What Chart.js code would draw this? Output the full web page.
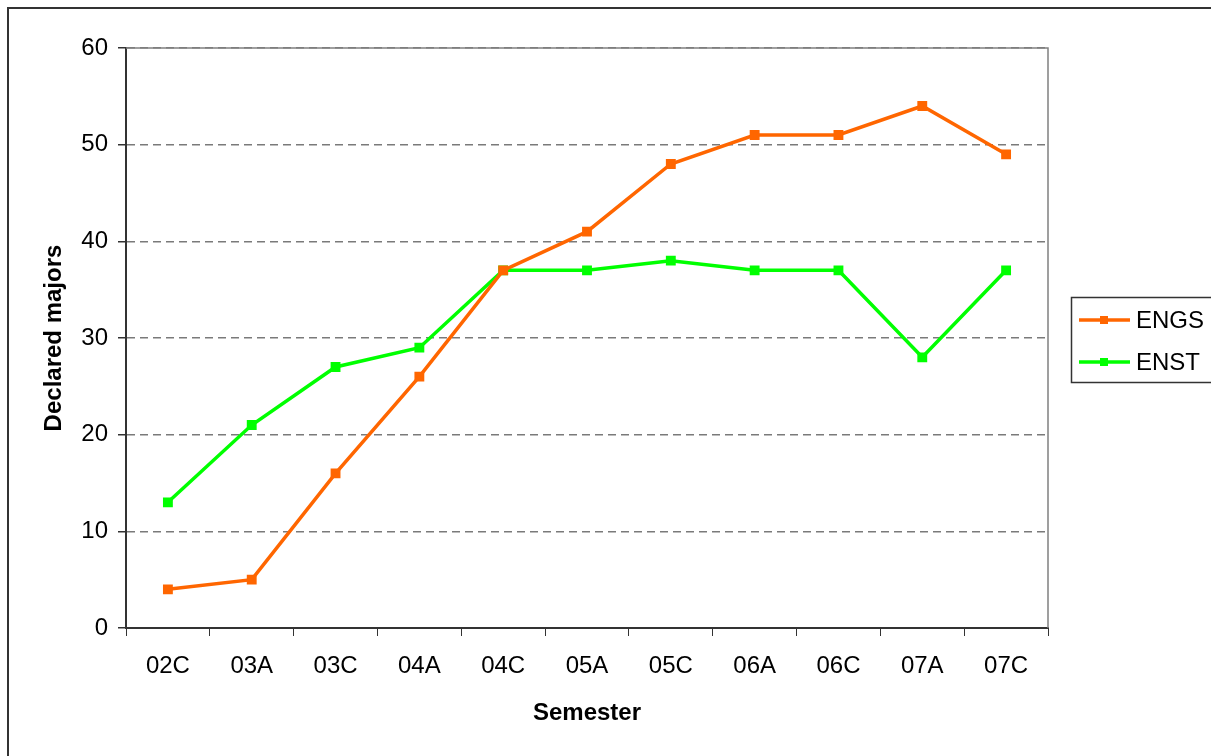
<!DOCTYPE html>
<html>
<head>
<meta charset="utf-8">
<script src="https://cdn.jsdelivr.net/npm/chart.js@4.4.1/dist/chart.umd.min.js"></script>
<style>
  html, body { margin: 0; padding: 0; background: #fff; }
  #wrap { width: 1211px; height: 756px; position: relative; }
</style>
</head>
<body>
<div id="wrap"><canvas id="chart" width="1211" height="756"></canvas></div>
<script>
const semesters = ['02C', '03A', '03C', '04A', '04C', '05A', '05C', '06A', '06C', '07A', '07C'];
const engs = [4, 5, 16, 26, 37, 41, 48, 51, 51, 54, 49];
const enst = [13, 21, 27, 29, 37, 37, 38, 37, 37, 28, 37];
const yTicks = [0, 10, 20, 30, 40, 50, 60];

const FONT = 'Arial, "Liberation Sans", sans-serif';

// plot frame, outer border and the boxed legend on the right
const framePlugin = {
    id: 'frame',
    afterDraw(chart) {
        const ctx = chart.ctx;
        const a = chart.chartArea;
        ctx.save();
        // plot area top and right border
        ctx.strokeStyle = '#808080';
        ctx.lineWidth = 1.5;
        ctx.beginPath();
        ctx.moveTo(a.left, a.top);
        ctx.lineTo(a.right, a.top);
        ctx.lineTo(a.right, a.bottom);
        ctx.stroke();

        // outer chart border (left and top visible)
        ctx.strokeStyle = '#333';
        ctx.lineWidth = 2;
        ctx.beginPath();
        ctx.moveTo(8, chart.height);
        ctx.lineTo(8, 8);
        ctx.lineTo(chart.width, 8);
        ctx.stroke();

        // legend
        const lx = 1071, ly = 297;
        ctx.strokeStyle = '#333';
        ctx.lineWidth = 1.5;
        ctx.strokeRect(lx + 0.5, ly + 0.5, 200, 85);
        ctx.font = '24px ' + FONT;
        ctx.textBaseline = 'middle';
        ctx.textAlign = 'left';
        chart.data.datasets.forEach((ds, i) => {
            const y = ly + 23 + i * 42;
            ctx.strokeStyle = ds.borderColor;
            ctx.lineWidth = 3.5;
            ctx.beginPath();
            ctx.moveTo(lx + 8, y);
            ctx.lineTo(lx + 59, y);
            ctx.stroke();
            ctx.fillStyle = ds.borderColor;
            ctx.fillRect(lx + 29, y - 4, 8, 8);
            ctx.fillStyle = '#000';
            ctx.fillText(ds.label, lx + 65, y + 1);
        });
        ctx.restore();
    }
};

new Chart(document.getElementById('chart').getContext('2d'), {
    type: 'line',
    data: {
        labels: semesters,
        datasets: [
            {label: 'ENGS', data: engs, borderColor: '#FF6600', backgroundColor: '#FF6600',
             borderWidth: 3.5, pointStyle: 'rect', pointRadius: 4.5, pointHoverRadius: 4.5, tension: 0},
            {label: 'ENST', data: enst, borderColor: '#00FF00', backgroundColor: '#00FF00',
             borderWidth: 3.5, pointStyle: 'rect', pointRadius: 4.5, pointHoverRadius: 4.5, tension: 0}
        ]
    },
    options: {
        responsive: false,
        animation: false,
        events: [],
        layout: {padding: {top: 48, right: 163, left: 0, bottom: 0}},
        plugins: {legend: {display: false}, tooltip: {enabled: false}},
        scales: {
            x: {
                offset: true,
                afterFit: s => { s.height = 128; },
                grid: {offset: true, drawOnChartArea: false, drawTicks: true, tickLength: 8, color: '#333', tickColor: '#333'},
                border: {color: '#333', width: 2},
                ticks: {color: '#000', font: {family: FONT, size: 24}, padding: 16, maxRotation: 0},
                title: {display: true, text: 'Semester', color: '#000',
                        font: {family: FONT, size: 24, weight: 'bold'}, padding: {top: 0, bottom: 28}}
            },
            y: {
                min: 0, max: 60,
                afterFit: s => { s.width = 126; },
                afterBuildTicks: s => { s.ticks = yTicks.map(v => ({value: v})); },
                grid: {color: '#7a7a7a', lineWidth: 1.5, tickLength: 8, tickColor: '#333'},
                border: {color: '#333', width: 2, dash: [8, 5]},
                ticks: {color: '#000', font: {family: FONT, size: 24}, padding: 10},
                title: {display: true, text: 'Declared majors', color: '#000',
                        font: {family: FONT, size: 24, weight: 'bold'}, padding: {top: 40, bottom: 0}}
            }
        }
    },
    plugins: [framePlugin]
});
</script>
</body>
</html>
